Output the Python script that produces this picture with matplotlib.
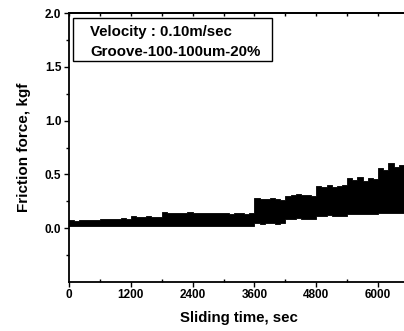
import matplotlib
matplotlib.use("Agg")
import matplotlib.pyplot as plt
from matplotlib.patches import Rectangle
import numpy as np

# envelope of the friction trace, read every 100 s
time_sec = list(range(0, 6700, 100))
upper_kgf = [0.075, 0.07, 0.075, 0.078, 0.072, 0.076,
             0.088, 0.09, 0.085, 0.09, 0.092, 0.088,
             0.11, 0.105, 0.108, 0.11, 0.104, 0.106,
             0.15, 0.14, 0.145, 0.14, 0.143, 0.148, 0.14, 0.142, 0.145,
             0.14, 0.138, 0.142, 0.14, 0.135, 0.14, 0.138, 0.135, 0.14,
             0.28, 0.275, 0.27, 0.28, 0.272, 0.265,
             0.30, 0.31, 0.32, 0.305, 0.31, 0.30,
             0.39, 0.38, 0.40, 0.38, 0.39, 0.40,
             0.47, 0.45, 0.48, 0.44, 0.47, 0.46,
             0.56, 0.54, 0.61, 0.57, 0.59, 0.55]
lower_kgf = [0.02, 0.018, 0.02, 0.022, 0.02, 0.018,
             0.02, 0.022, 0.02, 0.018, 0.02, 0.022,
             0.025, 0.022, 0.025, 0.025, 0.02, 0.025,
             0.022, 0.02, 0.025, 0.02, 0.022, 0.025, 0.025, 0.022, 0.02,
             0.025, 0.025, 0.022, 0.02, 0.025, 0.022, 0.02, 0.025, 0.022,
             0.045, 0.042, 0.048, 0.045, 0.04, 0.045,
             0.09, 0.088, 0.092, 0.09, 0.09, 0.088,
             0.115, 0.11, 0.12, 0.115, 0.11, 0.118,
             0.13, 0.128, 0.132, 0.13, 0.13, 0.128,
             0.14, 0.138, 0.142, 0.14, 0.14, 0.142]

plt.rcParams["font.family"] = ["Liberation Sans", "DejaVu Sans"]
plt.rcParams["font.weight"] = "bold"

fig = plt.figure(figsize=(4.04, 3.31), dpi=100)
ax = fig.add_axes([69 / 404, 49 / 331, 340 / 404, 269 / 331])

up = upper_kgf + [upper_kgf[-1]]
lo = lower_kgf + [lower_kgf[-1]]
ax.fill_between(time_sec, lo, up, step="post", color="black", lw=0.6)

ax.set_xlim(0, 6600)
ax.set_ylim(-0.5, 2.0)
ax.set_xticks([0, 1200, 2400, 3600, 4800, 6000])
ax.set_xticks(np.arange(600, 6600, 1200), minor=True)
ax.set_yticks([0.0, 0.5, 1.0, 1.5, 2.0])
ax.set_yticks([-0.25, 0.25, 0.75, 1.25, 1.75], minor=True)
ax.tick_params(which="major", direction="out", length=3.5, width=1, labelsize=8.5)
ax.tick_params(axis="x", which="major", pad=1.5)
ax.tick_params(axis="y", which="major", pad=2)
ax.tick_params(axis="y", which="minor", direction="out", length=2.5, width=1)
ax.tick_params(axis="x", which="minor", direction="in", length=2.5, width=1)
for s in ax.spines.values():
    s.set_linewidth(1.3)
ax.spines["right"].set_visible(False)

top = ax.secondary_xaxis("top")
top.set_xticks(np.arange(0, 6601, 600))
top.tick_params(direction="in", length=2.5, width=1, labeltop=False)
top.spines["top"].set_linewidth(1.3)

ax.set_xlabel("Sliding time, sec", fontsize=10.8, fontweight="bold", labelpad=7)
ax.set_ylabel("Friction force, kgf", fontsize=11, fontweight="bold", labelpad=10)

ax.add_patch(Rectangle((0.012, 0.822), 0.585, 0.159, transform=ax.transAxes,
                       fc="white", ec="black", lw=1, zorder=3))
ax.text(0.062, 0.93, "Velocity : 0.10m/sec", transform=ax.transAxes,
        ha="left", va="center", fontsize=10.8, fontweight="bold", zorder=4)
ax.text(0.062, 0.856, "Groove-100-100um-20%", transform=ax.transAxes,
        ha="left", va="center", fontsize=10.8, fontweight="bold", zorder=4)

fig.savefig("out.png", dpi=100)
